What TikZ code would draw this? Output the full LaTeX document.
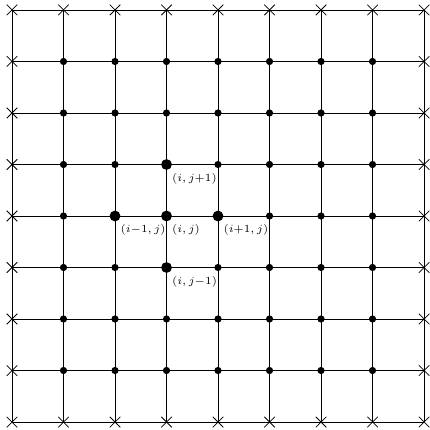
\documentclass[tikz,border=0pt]{standalone}
\usepackage{amsmath}
\usetikzlibrary{positioning,shapes.misc}

\begin{document}
\begin{tikzpicture}[
    gp/.style={circle,fill=black,inner sep=0pt,minimum size=1.4mm},
    cp/.style={circle,fill=black,inner sep=0pt,minimum size=2.1mm},
    bd/.style={cross out,draw=black,inner sep=0pt,minimum size=1.9mm},
    lb/.style={inner sep=0pt,font=\fontsize{6.3}{7}\selectfont}
  ]
  \useasboundingbox (-0.233,-0.155) rectangle (8.097,8.194);
  % grid points
  \foreach \x in {0,...,8}
    \foreach \y in {0,...,8}
      \coordinate (g-\x-\y) at (\x,\y);
  % grid lines
  \foreach \k in {0,...,8}{
    \draw (g-\k-0) -- (g-\k-8);
    \draw (g-0-\k) -- (g-8-\k);
  }
  % boundary crosses and interior dots
  \foreach \x in {0,...,8}
    \foreach \y in {0,...,8}{
      \pgfmathtruncatemacro{\edge}{(\x==0)||(\x==8)||(\y==0)||(\y==8)}
      \ifnum\edge=1
        \node[bd] (p-\x-\y) at (g-\x-\y) {};
      \else
        \node[gp] (p-\x-\y) at (g-\x-\y) {};
      \fi
    }
  % stencil
  \node[cp] (c) at (g-3-4) {};
  \node[cp] (n) at (g-3-5) {};
  \node[cp] (s) at (g-3-3) {};
  \node[cp] (w) at (g-2-4) {};
  \node[cp] (e) at (g-4-4) {};
  \node[lb,below right=0.16cm and 0.1cm of c.center] (lc) {$(i,j)$};
  \node[lb,below right=0.16cm and 0.1cm of n.center] (ln) {$(i,j{+}1)$};
  \node[lb,below right=0.16cm and 0.1cm of s.center] (ls) {$(i,j{-}1)$};
  \node[lb,below right=0.16cm and 0.1cm of w.center] (lw) {$(i{-}1,j)$};
  \node[lb,below right=0.16cm and 0.1cm of e.center] (le) {$(i{+}1,j)$};
\end{tikzpicture}
\end{document}
